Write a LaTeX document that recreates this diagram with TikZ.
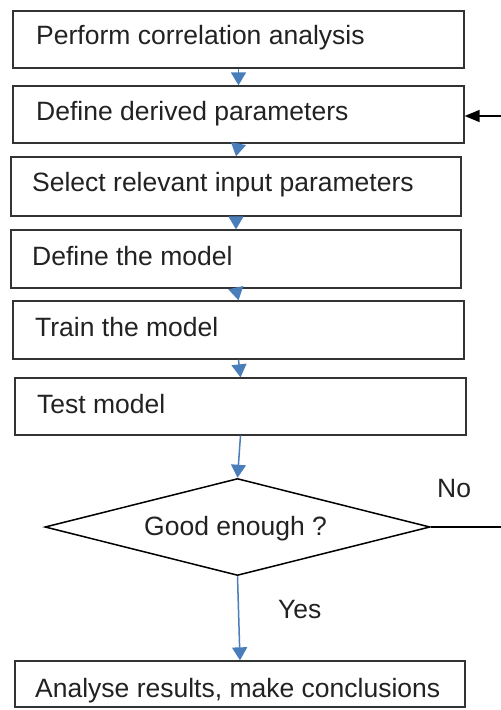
\documentclass[tikz,border=0pt]{standalone}
\usepackage{fontspec}
\setmainfont{Liberation Sans}
\usetikzlibrary{arrows.meta,shapes.geometric}
\definecolor{flowblue}{HTML}{4A7EBB}
\definecolor{boxline}{HTML}{333333}
\definecolor{txt}{HTML}{222222}
\tikzset{
  stepbox/.style={draw=boxline, line width=1.3pt, fill=white, rectangle, inner sep=0pt},
  lbl/.style={anchor=base west, inner sep=0pt, text=txt, font=\fontsize{26.5}{30}\selectfont},
  bluearrow/.style={draw=flowblue, line width=1.5pt, -{Triangle[width=15pt,length=13pt]}, fill=flowblue},
  blackarrow/.style={draw=black, line width=1.5pt, -{Triangle[width=12pt,length=15pt]}},
}
\begin{document}
\begin{tikzpicture}[x=1pt,y=-1pt]
\clip (0,0) rectangle (501,710);
\fill[white] (0,0) rectangle (501,710);
% boxes
\node[stepbox, minimum width=451pt, minimum height=57pt] (b1) at (238.5,39.5) {};
\node[stepbox, minimum width=451pt, minimum height=57pt] (b2) at (238.5,114.5) {};
\node[stepbox, minimum width=450pt, minimum height=59pt] (b3) at (236,186.5) {};
\node[stepbox, minimum width=450pt, minimum height=58pt] (b4) at (236,259) {};
\node[stepbox, minimum width=451pt, minimum height=58pt] (b5) at (238.5,330) {};
\node[stepbox, minimum width=451pt, minimum height=57pt] (b6) at (240.5,406.5) {};
\node[draw=black, line width=1.5pt, diamond, minimum width=385pt, minimum height=97pt, inner sep=0pt] (d) at (237.5,527) {};
\node[stepbox, minimum width=450pt, minimum height=46pt] (b7) at (240,684) {};
% labels
\node[lbl] (t1) at (36,44.5) {Perform correlation analysis};
\node[lbl] (t2) at (36,120) {Define derived parameters};
\node[lbl] (t3) at (32,191) {Select relevant input parameters};
\node[lbl] (t4) at (32,265) {Define the model};
\node[lbl] (t5) at (35,336) {Train the model};
\node[lbl] (t6) at (37,413) {Test model};
\node[lbl] (td) at (144,535) {Good enough ?};
\node[lbl] (t7) at (35,697) {Analyse results, make conclusions};
\node[lbl] (no) at (437,497) {No};
\node[lbl] (yes) at (278,618) {Yes};
% connectors
\draw[bluearrow] (b1.south) -- (b2.north);
\draw[bluearrow] (b2.south) -- (b3.north);
\draw[bluearrow] (b3.south) -- (b4.north);
\draw[bluearrow] (b4.south) -- (b5.north);
\draw[bluearrow] (b5.south) -- (b6.north);
\draw[bluearrow] (b6.south) -- (d.north);
\draw[bluearrow] (d.south) -- (b7.north);
\coordinate (fb) at (540,116);
\draw[black, line width=1.5pt] (d.east) -- (d.east -| fb) -- (fb);
\draw[blackarrow] (fb) -- (b2.east |- fb);
\end{tikzpicture}
\end{document}
